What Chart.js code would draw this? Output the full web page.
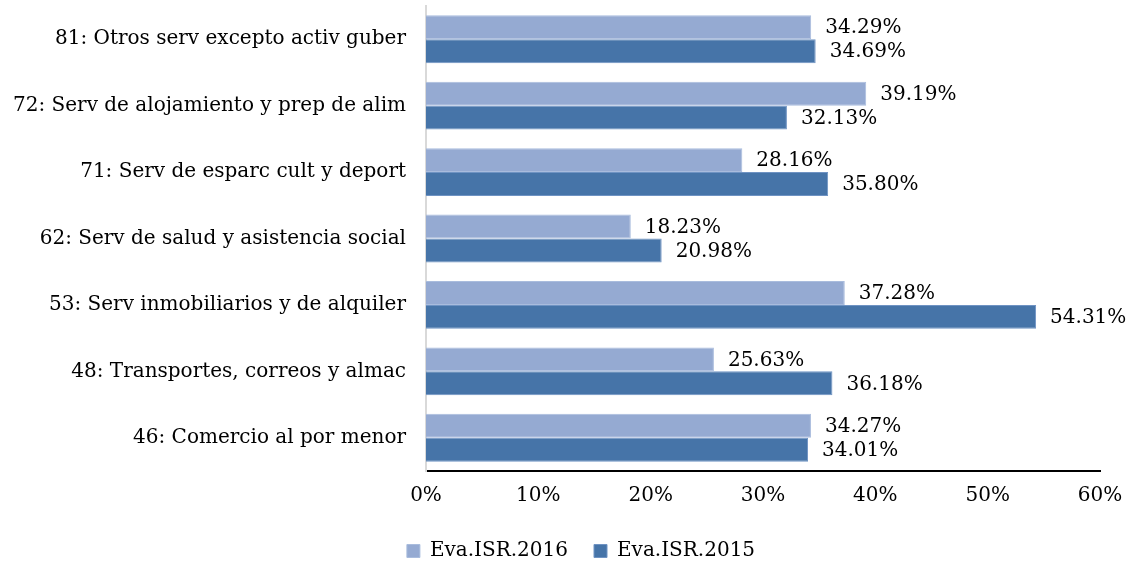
<!DOCTYPE html>
<html>
<head>
<meta charset="utf-8">
<script src="https://cdn.jsdelivr.net/npm/chart.js@4.4.1/dist/chart.umd.min.js"></script>
<style>
  html, body { margin: 0; padding: 0; background: #fff; }
  #wrap { width: 1137px; height: 567px; }
</style>
</head>
<body>
<div id="wrap"><canvas id="chart_isr" width="1137" height="567"></canvas></div>
<script>
// sectores, de arriba a abajo
const categories = [
  '81: Otros serv excepto activ guber',
  '72: Serv de alojamiento y prep de alim',
  '71: Serv de esparc cult y deport',
  '62: Serv de salud y asistencia social',
  '53: Serv inmobiliarios y de alquiler',
  '48: Transportes, correos y almac',
  '46: Comercio al por menor'
];
const eva2016 = [34.29, 39.19, 28.16, 18.23, 37.28, 25.63, 34.27];
const eva2015 = [34.69, 32.13, 35.80, 20.98, 54.31, 36.18, 34.01];
const xTicks = [0, 10, 20, 30, 40, 50, 60];

const FONT = 'DejaVu Serif';
const FSIZE = 20;

// etiqueta con el valor a la derecha de cada barra
const valueLabels = {
  id: 'valueLabels',
  afterDatasetsDraw(chart) {
    const ctx = chart.ctx;
    ctx.save();
    ctx.font = FSIZE + 'px "' + FONT + '"';
    ctx.fillStyle = '#000';
    ctx.textAlign = 'left';
    ctx.textBaseline = 'middle';
    chart.data.datasets.forEach((ds, i) => {
      chart.getDatasetMeta(i).data.forEach((bar, j) => {
        ctx.fillText(ds.data[j].toFixed(2) + '%', bar.x + 14, bar.y + 1);
      });
    });
    ctx.restore();
  }
};

// la leyenda va centrada un poco a la derecha del centro del lienzo
const legendShift = {
  id: 'legendShift',
  afterLayout(chart) {
    chart.legend.left += 31;
    chart.legend.right += 31;
  }
};

const config = {
  type: 'bar',
  data: {
    labels: categories,
    datasets: [
      {
        label: 'Eva.ISR.2016',
        data: eva2016,
        backgroundColor: '#95AAD2',
        borderColor: '#A9BCDD',
        borderWidth: 1,
        categoryPercentage: 0.72,
        barPercentage: 1
      },
      {
        label: 'Eva.ISR.2015',
        data: eva2015,
        backgroundColor: '#4674A8',
        borderColor: '#6F93C3',
        borderWidth: 1,
        categoryPercentage: 0.72,
        barPercentage: 1
      }
    ]
  },
  options: {
    indexAxis: 'y',
    responsive: false,
    animation: false,
    layout: { autoPadding: false, padding: { top: 6, right: 37, left: 0, bottom: -4 } },
    plugins: {
      tooltip: { enabled: false },
      legend: {
        position: 'bottom',
        labels: {
          boxWidth: 13,
          boxHeight: 13,
          padding: 26,
          color: '#000',
          font: { family: FONT, size: FSIZE }
        }
      }
    },
    scales: {
      x: {
        min: 0,
        max: 60,
        afterBuildTicks: s => { s.ticks = xTicks.map(v => ({ value: v })); },
        afterFit: s => { s.height = 44; s.paddingLeft = 0; s.paddingRight = 0; },
        grid: { display: false, drawTicks: false },
        border: { display: true, color: '#000', width: 2 },
        ticks: {
          padding: 13,
          color: '#000',
          maxRotation: 0,
          font: { family: FONT, size: FSIZE },
          callback: v => v + '%'
        }
      },
      y: {
        afterFit: s => { s.width = 426; s.paddingTop = 0; s.paddingBottom = 0; },
        grid: { display: false, drawTicks: false },
        border: { display: true, color: '#D9D9D9', width: 2 },
        ticks: {
          padding: 20,
          color: '#000',
          font: { family: FONT, size: FSIZE }
        }
      }
    }
  },
  plugins: [valueLabels, legendShift]
};

new Chart(document.getElementById('chart_isr'), config);
</script>
</body>
</html>
